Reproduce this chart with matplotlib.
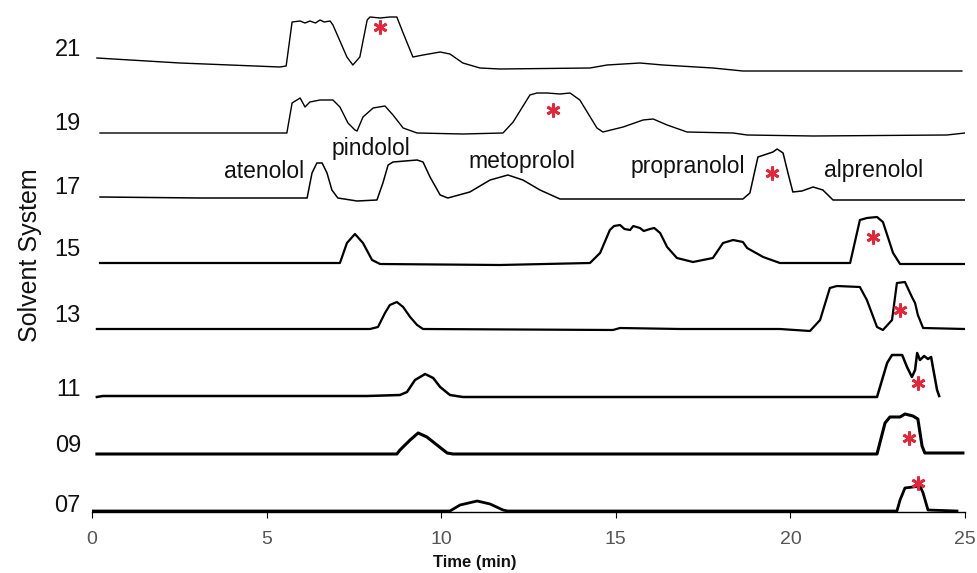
import matplotlib.pyplot as plt

plt.rcParams['font.family'] = ['Liberation Sans', 'DejaVu Sans']

# solvent systems, bottom to top
systems = ['07', '09', '11', '13', '15', '17', '19', '21']

# baseline of each trace on the stacked axis
offsets = [1, 58, 115, 183, 248, 314, 379, 442]
# where each solvent label sits
label_y = [9, 69, 125, 199, 264, 327, 390, 464]

# traces: time (min) and signal above baseline
t07 = [0.03, 10.25, 10.54, 11.03, 11.40, 11.77, 11.90, 23.05, 23.14, 23.28, 23.51, 23.71, 23.80, 23.94, 24.77]
s07 = [0, 0, 6, 10, 7, 1, 0, 0, 11, 23, 24, 25, 18, 1, 0]

t09 = [0.14, 8.73, 8.82, 9.11, 9.34, 9.59, 9.88, 10.17, 10.34, 22.48, 22.71, 22.85, 23.14, 23.28, 23.51,
       23.65, 23.77, 23.85, 24.94]
s09 = [0, 0, 4, 14, 21, 17, 9, 1, 0, 0, 31, 37, 37, 40, 38, 35, 8, 1, 1]

t11 = [0.14, 0.31, 7.88, 8.82, 9.02, 9.25, 9.54, 9.77, 9.97, 10.25, 10.62, 16.84, 20.33, 22.48, 22.77, 22.91,
       23.20, 23.34, 23.48, 23.57, 23.63, 23.71, 23.83, 23.94, 24.03, 24.08, 24.20, 24.26]
s11 = [0, 1, 1, 2, 5, 17, 23, 19, 10, 2, 0, 0, 0, 0, 34, 42, 42, 30, 20, 27, 44, 37, 41, 38, 40, 30, 7, 1]

t13 = [0.14, 7.96, 8.19, 8.39, 8.53, 8.73, 8.91, 9.11, 9.31, 9.48, 14.92, 15.12, 16.84, 19.70, 20.56,
       20.85, 21.13, 21.33, 21.99, 22.19, 22.48, 22.65, 22.91, 23.05, 23.28, 23.48, 23.57, 23.65, 23.80, 25.0]
s13 = [0, 0, 2, 16, 24, 27, 22, 12, 4, 0, -1, 1, 0, 0, -2, 9, 41, 43, 42, 29, 2, -1, 9, 46, 47, 32, 26,
       14, 1, 0]

t15 = [0.23, 7.10, 7.30, 7.53, 7.76, 8.02, 8.25, 11.68, 14.26, 14.55, 14.83, 14.95, 15.12, 15.25, 15.41,
       15.50, 15.69, 15.80, 15.98, 16.10, 16.27, 16.47, 16.75, 17.21, 17.78, 18.07, 18.36, 18.64, 18.76,
       19.22, 19.70, 21.71, 21.99, 22.19, 22.48, 22.65, 22.94, 23.14, 25.0]
s15 = [1, 1, 21, 30, 21, 4, 0, -1, 1, 11, 34, 38, 39, 35, 34, 38, 36, 33, 35, 36, 31, 17, 6, 2, 6, 21,
       24, 22, 16, 7, 1, 1, 44, 46, 47, 42, 11, 0, 0]

t17 = [0.23, 3.09, 5.96, 6.16, 6.30, 6.44, 6.59, 6.73, 6.87, 7.04, 7.59, 8.16, 8.33, 8.48, 8.62, 9.31,
       9.48, 9.68, 9.97, 10.19, 10.82, 11.40, 11.91, 12.34, 12.83, 13.40, 14.46, 18.64, 18.84, 19.07,
       19.33, 19.50, 19.62, 19.79, 19.93, 20.07, 20.33, 20.65, 20.93, 21.22, 25.0]
s17 = [1, 0, 0, 0, 25, 35, 35, 25, 8, 0, -3, -2, 15, 33, 36, 38, 36, 21, 3, 0, 6, 18, 23, 18, 8, -1, -1,
       -1, 5, 41, 44, 46, 49, 45, 25, 6, 7, 11, 8, -2, -2]

t19 = [0.23, 5.58, 5.73, 5.96, 6.10, 6.24, 6.53, 6.90, 7.10, 7.33, 7.53, 7.59, 7.76, 8.05, 8.39, 8.62,
       8.91, 9.31, 10.62, 11.77, 12.06, 12.54, 12.74, 13.03, 13.40, 13.69, 13.97, 14.46, 14.63, 15.21,
       15.78, 16.07, 16.47, 17.04, 18.36, 18.76, 20.65, 24.48, 25.0]
s19 = [0, 0, 30, 35, 26, 31, 33, 33, 26, 10, 3, 2, 16, 25, 27, 18, 5, 0, -1, 0, 11, 38, 40, 40, 39, 40,
       33, 5, 1, 6, 13, 14, 8, 1, 0, -2, -3, -2, 0]

t21 = [0.14, 2.52, 5.38, 5.56, 5.73, 5.96, 6.10, 6.24, 6.40, 6.53, 6.65, 6.82, 6.90, 7.30, 7.47, 7.67,
       7.88, 7.96, 8.25, 8.53, 8.73, 8.91, 9.19, 9.48, 9.97, 10.25, 10.62, 11.11, 11.68, 14.26, 14.75,
       15.69, 16.35, 17.78, 18.64, 20.65, 24.91]
s21 = [12, 7, 3, 4, 48, 49, 47, 49, 47, 50, 48, 49, 45, 13, 5, 13, 50, 53, 52, 53, 53, 37, 13, 15, 18,
       16, 7, 2, 1, 2, 5, 7, 5, 2, -1, -1, -1]

times = [t07, t09, t11, t13, t15, t17, t19, t21]
signals = [s07, s09, s11, s13, s15, s17, s19, s21]
widths = [2.0, 2.2, 1.8, 1.6, 1.6, 1.1, 1.0, 1.0]

# red asterisks marking the collected fraction in each run
star_t = [23.65, 23.40, 23.65, 23.14, 22.36, 19.47, 13.20, 8.25]
star_h = [28, 16, 14, 19, 27, 25, 23, 43]

drugs = ['atenolol', 'pindolol', 'metoprolol', 'propranolol', 'alprenolol']
drug_t = [4.93, 7.98, 12.31, 17.07, 22.39]
drug_y = [334, 357, 344, 339, 335]

fig = plt.figure(figsize=(9.77, 5.73), dpi=100)
ax = fig.add_axes([92 / 977, 61 / 573, 873 / 977, 507 / 573])

for t, s, off, lw in zip(times, signals, offsets, widths):
    ax.plot(t, [v + off for v in s], color='black', lw=lw)

ax.plot(star_t, [h + o for h, o in zip(star_h, offsets)], linestyle='none',
        marker=(6, 2, 0), ms=10, mew=2, color='#e3263a')

for name, x, y in zip(drugs, drug_t, drug_y):
    ax.text(x, y, name, ha='center', va='baseline', fontsize=16.5, color='#111111')

ax.set_xlim(0, 25)
ax.set_ylim(0, 507)
ax.set_xticks([0, 5, 10, 15, 20, 25])
ax.set_yticks(label_y)
ax.set_yticklabels(systems)
ax.tick_params(axis='y', length=0, pad=8, labelsize=17, labelcolor='#111111')
ax.tick_params(axis='x', direction='out', length=4.5, pad=9, labelsize=14, labelcolor='#555555')
for side in ['top', 'right', 'left']:
    ax.spines[side].set_visible(False)
ax.spines['bottom'].set_linewidth(1.0)

fig.text(475 / 977, 1 - 562 / 573, 'Time (min)', ha='center', va='center',
         fontsize=12, fontweight='bold', color='#111111')
fig.text(30 / 977, 1 - 255 / 573, 'Solvent System', ha='center', va='center',
         rotation=90, fontsize=18, color='#111111')

fig.savefig('out.png', dpi=100, facecolor='white')
